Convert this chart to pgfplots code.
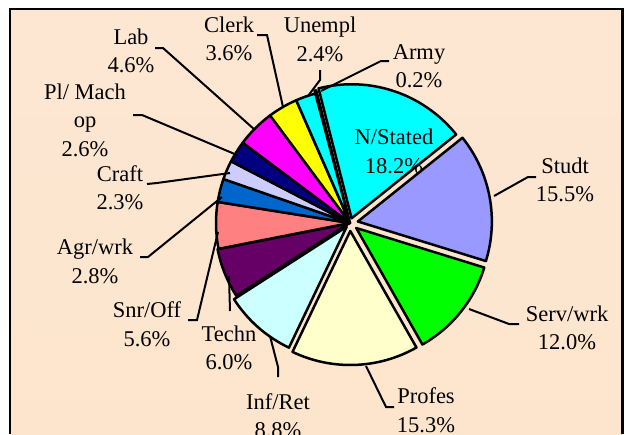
\documentclass[border=0pt]{standalone}
\usepackage{fontspec}
\setmainfont{Liberation Serif}
\usepackage{pgfplots}
\pgfplotsset{compat=1.18}
\definecolor{bgtop}{RGB}{253,231,211}
\definecolor{bgmid}{RGB}{251,198,150}
\definecolor{bgbot}{RGB}{253,229,205}
\definecolor{cArmy}{HTML}{00FFFF}
\definecolor{cNS}{HTML}{00FFFF}
\definecolor{cStudt}{HTML}{9999FF}
\definecolor{cServ}{HTML}{00FF00}
\definecolor{cProf}{HTML}{FFFFCC}
\definecolor{cInf}{HTML}{CCFFFF}
\definecolor{cTech}{HTML}{660066}
\definecolor{cSnr}{HTML}{FF8080}
\definecolor{cAgr}{HTML}{0066CC}
\definecolor{cCraft}{HTML}{CCCCFF}
\definecolor{cPl}{HTML}{000080}
\definecolor{cLab}{HTML}{FF00FF}
\definecolor{cClerk}{HTML}{FFFF00}
\definecolor{cUnem}{HTML}{00FFFF}
\newcommand\lf{\fontsize{22.5}{28.5}\selectfont}
\begin{document}
\begin{tikzpicture}
\begin{axis}[name=ax, x=1pt, y=1pt, xmin=0, xmax=626, ymin=0, ymax=434,
  y dir=reverse, axis lines=none, clip=false]
\pgfplotsextra{
  \shade[top color=bgtop, middle color=bgmid, bottom color=bgbot]
     (axis cs:10,9) rectangle (axis cs:622.5,434);
  \draw[line width=2.5pt] (axis cs:10,434) -- (axis cs:10,9) -- (axis cs:622.5,9) -- (axis cs:622.5,434);
  % value (%) / explode (pt) / colour, clockwise from the top
  \xdef\angstart{105}
  \foreach \v/\e/\col in {0.2/3/cArmy, 18.2/5/cNS, 15.5/8/cStudt, 12.0/8/cServ,
      15.3/8/cProf, 8.8/5/cInf, 6.0/1/cTech, 5.6/0/cSnr, 2.8/0/cAgr, 2.3/0/cCraft,
      2.6/0/cPl, 4.6/0/cLab, 3.6/0/cClerk, 2.4/0/cUnem}{
    \pgfmathsetmacro{\aend}{\angstart-\v*360/99.9}
    \pgfmathsetmacro{\amid}{(\angstart+\aend)/2}
    \pgfmathsetmacro{\px}{350+\e*cos(\amid)}
    \pgfmathsetmacro{\py}{223-\e*sin(\amid)}
    \filldraw[fill=\col, draw=black, line width=2.5pt, line join=round]
      (axis cs:\px,\py) -- ++(\angstart:134pt)
      arc[start angle=\angstart, end angle=\aend, radius=134pt] -- cycle;
    \xdef\angstart{\aend}
  }
  % leader lines
  \begin{scope}[line width=2pt]
  \draw (axis cs:389,61) -- (axis cs:381,61) -- (axis cs:321,91);
  \draw (axis cs:320,70) -- (axis cs:320,80) -- (axis cs:308,96);
  \draw (axis cs:257,35) -- (axis cs:267,35) -- (axis cs:283,107);
  \draw (axis cs:155,48) -- (axis cs:163,48) -- (axis cs:255,130);
  \draw (axis cs:133,115) -- (axis cs:142,115) -- (axis cs:237,155);
  \draw (axis cs:147,184) -- (axis cs:157,183) -- (axis cs:230,173);
  \draw (axis cs:140,257) -- (axis cs:148,257) -- (axis cs:222,197);
  \draw (axis cs:188,320) -- (axis cs:197,320) -- (axis cs:218,232);
  \draw (axis cs:230,311) -- (axis cs:229,276);
  \draw (axis cs:278,377) -- (axis cs:278,367) -- (axis cs:270,336);
  \draw (axis cs:394,407) -- (axis cs:386,407) -- (axis cs:366,366);
  \draw (axis cs:519,324) -- (axis cs:509,324) -- (axis cs:469,309);
  \draw (axis cs:536,177) -- (axis cs:528,177) -- (axis cs:494,196);
  \end{scope}
  % labels
  \begin{scope}[every node/.style={align=center, font=\lf, inner sep=0pt}]
  \node at (axis cs:419,66) {Army\\0.2\%};
  \node at (axis cs:320,39.5) {Unempl\\2.4\%};
  \node at (axis cs:229,39) {Clerk\\3.6\%};
  \node at (axis cs:131,51) {Lab\\4.6\%};
  \node at (axis cs:85,120) {Pl/ Mach\\op\\2.6\%};
  \node at (axis cs:120,187.5) {Craft\\2.3\%};
  \node at (axis cs:95,261.5) {Agr/wrk\\2.8\%};
  \node at (axis cs:147,324) {Snr/Off\\5.6\%};
  \node at (axis cs:229,348) {Techn\\6.0\%};
  \node at (axis cs:278,415.5) {Inf/Ret\\8.8\%};
  \node at (axis cs:426,410) {Profes\\15.3\%};
  \node at (axis cs:567,328) {Serv/wrk\\12.0\%};
  \node at (axis cs:565,180) {Studt\\15.5\%};
  \node at (axis cs:394,151.5) {N/Stated\\18.2\%};
  \end{scope}
}
\end{axis}
\pgfresetboundingbox
\path[use as bounding box] (ax.south west) rectangle (ax.north east);
\end{tikzpicture}
\end{document}
